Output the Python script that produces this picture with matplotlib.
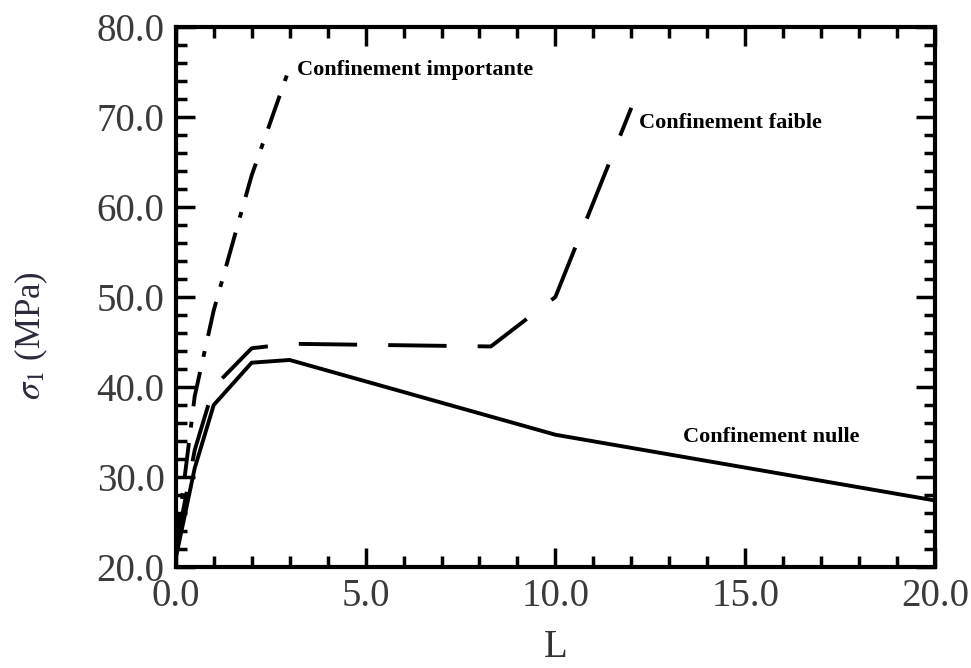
import matplotlib
matplotlib.use('Agg')
import matplotlib.pyplot as plt
from matplotlib.ticker import MultipleLocator, FormatStrFormatter

# values
L_nulle = [0.0, 0.5, 1.0, 2.0, 3.0, 10.0, 20.0]
s_nulle = [21.0, 31.0, 38.0, 42.7, 43.0, 34.7, 27.4]

L_faible = [0.0, 0.5, 1.0, 2.0, 3.0, 8.3, 10.0, 12.0]
s_faible = [22.0, 33.0, 40.0, 44.3, 44.8, 44.5, 50.0, 71.0]

L_imp = [0.0, 0.5, 1.0, 2.0, 3.0]
s_imp = [22.0, 39.0, 48.5, 63.5, 75.5]

labels = ['Confinement nulle', 'Confinement faible', 'Confinement importante']

plt.rcParams['font.family'] = ['Liberation Serif', 'DejaVu Serif']
plt.rcParams['mathtext.fontset'] = 'stix'

fig = plt.figure(figsize=(9.71, 6.68), dpi=100)
ax = fig.add_axes([0.181, 0.151, 0.782, 0.809])

ax.plot(L_nulle, s_nulle, color='black', lw=2.8, solid_joinstyle='round')
ax.plot(L_faible, s_faible, color='black', lw=2.8, dashes=(15, 8))
ax.plot(L_imp, s_imp, color='black', lw=2.8, dashes=(9, 4, 1.5, 4))

# curve labels
ax.text(3.2, 75.2, labels[2], fontsize=16, fontweight='bold', va='center')
ax.text(12.2, 69.3, labels[1], fontsize=16, fontweight='bold', va='center')
ax.text(13.35, 34.4, labels[0], fontsize=16, fontweight='bold', va='center')

ax.set_xlim(0, 20)
ax.set_ylim(20, 80)
ax.xaxis.set_major_locator(MultipleLocator(5))
ax.xaxis.set_minor_locator(MultipleLocator(1))
ax.yaxis.set_major_locator(MultipleLocator(10))
ax.yaxis.set_minor_locator(MultipleLocator(2))
ax.xaxis.set_major_formatter(FormatStrFormatter('%.1f'))
ax.yaxis.set_major_formatter(FormatStrFormatter('%.1f'))

ax.tick_params(which='both', direction='in', top=True, right=True,
               labelsize=28, labelcolor='#3a3a3a', pad=8)
ax.tick_params(which='major', length=14, width=2.5)
ax.tick_params(which='minor', length=8, width=2.5)
for sp in ax.spines.values():
    sp.set_linewidth(3)

ax.set_xlabel('L', fontsize=28, color='#333333', labelpad=10)
ax.set_ylabel(r'$\mathit{\sigma}_1$ (MPa)', fontsize=25, color='#2a2a3a')
ax.yaxis.set_label_coords(-0.166, 0.428)

fig.savefig('out.png', dpi=100)
